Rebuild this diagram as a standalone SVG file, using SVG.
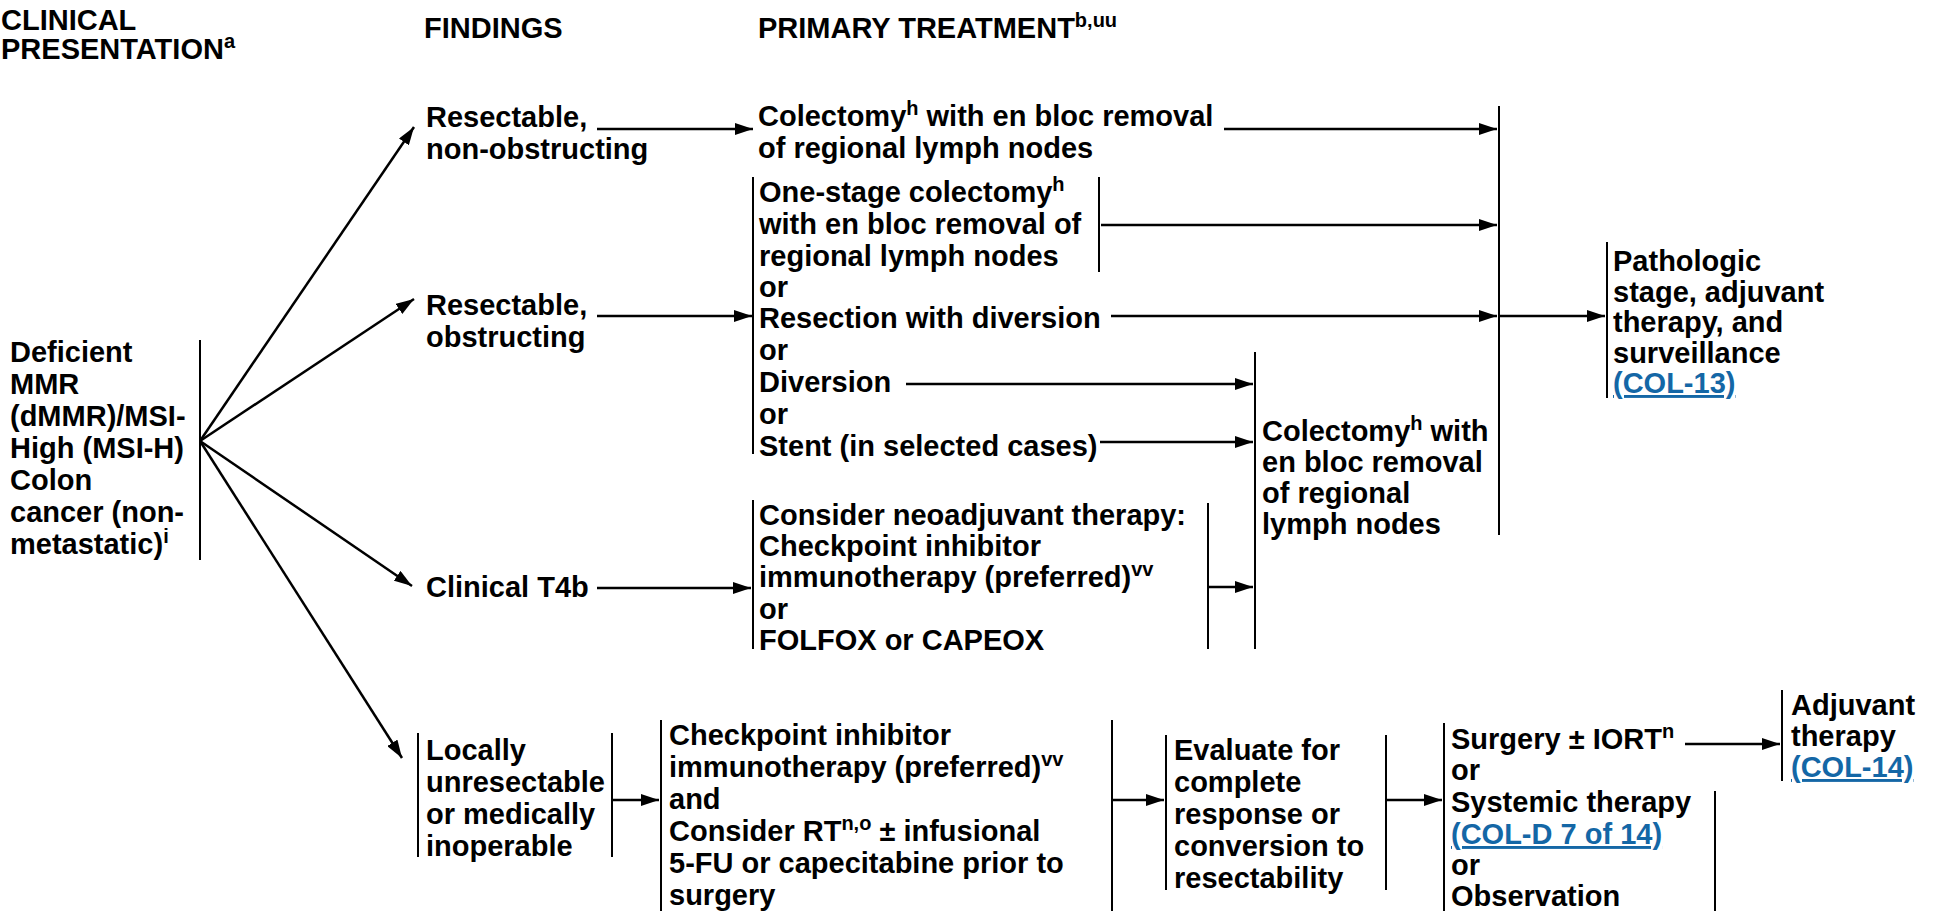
<svg xmlns="http://www.w3.org/2000/svg" width="1938" height="911" viewBox="0 0 1938 911">
<defs>
<style>
text { font-family: "Liberation Sans", Arial, sans-serif; font-weight: bold; font-size: 29px; fill: #000; }
.sup { font-size: 20px; }
.link { fill: #1467a6; text-decoration: underline; }
.ln { stroke: #000; stroke-width: 2; fill: none; }
.arr { stroke: #000; stroke-width: 2.5; fill: none; marker-end: url(#ah); }
</style>
<marker id="ah" viewBox="0 0 18 12" refX="18" refY="6" markerWidth="18" markerHeight="12" markerUnits="userSpaceOnUse" orient="auto">
<path d="M0,0 L18,6 L0,12 z" fill="#000"/>
</marker>
</defs>
<rect width="1938" height="911" fill="#fff"/>

<g id="headers">
<text x="1" y="30">CLINICAL<tspan x="1" dy="29">PRESENTATION</tspan><tspan class="sup" dy="-11">a</tspan></text>
<text x="424" y="38">FINDINGS</text>
<text x="758" y="38">PRIMARY TREATMENT<tspan class="sup" dy="-11">b,uu</tspan></text>
</g>

<g id="node-clinical">
<text x="10" y="362">Deficient<tspan x="10" dy="32">MMR</tspan><tspan x="10" dy="32">(dMMR)/MSI-</tspan><tspan x="10" dy="32">High (MSI-H)</tspan><tspan x="10" dy="32">Colon</tspan><tspan x="10" dy="32">cancer (non-</tspan><tspan x="10" dy="32">metastatic)</tspan><tspan class="sup" dy="-11">i</tspan></text>
<line class="ln" x1="200" y1="340" x2="200" y2="560"/>
</g>

<g id="node-nonobstructing">
<text x="426" y="127">Resectable,<tspan x="426" dy="32">non-obstructing</tspan></text>
</g>
<g id="node-obstructing">
<text x="426" y="315">Resectable,<tspan x="426" dy="32">obstructing</tspan></text>
</g>
<g id="node-t4b">
<text x="426" y="597">Clinical T4b</text>
</g>
<g id="node-unresectable">
<text x="426" y="760">Locally<tspan x="426" dy="32">unresectable</tspan><tspan x="426" dy="32">or medically</tspan><tspan x="426" dy="32">inoperable</tspan></text>
<line class="ln" x1="418" y1="733" x2="418" y2="857"/>
<line class="ln" x1="612" y1="733" x2="612" y2="857"/>
</g>

<g id="node-colectomy1">
<text x="758" y="126">Colectomy<tspan class="sup" dy="-11">h</tspan><tspan dy="11"> with en bloc removal</tspan><tspan x="758" dy="32">of regional lymph nodes</tspan></text>
</g>

<g id="node-obstr-options">
<text x="759" y="202">One-stage colectomy<tspan class="sup" dy="-11">h</tspan><tspan x="759" dy="43">with en bloc removal of</tspan><tspan x="759" dy="32">regional lymph nodes</tspan><tspan x="759" dy="31">or</tspan><tspan x="759" dy="31">Resection with diversion</tspan><tspan x="759" dy="32">or</tspan><tspan x="759" dy="32">Diversion</tspan><tspan x="759" dy="32">or</tspan><tspan x="759" dy="32">Stent (in selected cases)</tspan></text>
<line class="ln" x1="753" y1="177" x2="753" y2="454"/>
<line class="ln" x1="1099" y1="177" x2="1099" y2="272"/>
</g>

<g id="node-colectomy2">
<text x="1262" y="441">Colectomy<tspan class="sup" dy="-11">h</tspan><tspan dy="11"> with</tspan><tspan x="1262" dy="31">en bloc removal</tspan><tspan x="1262" dy="31">of regional</tspan><tspan x="1262" dy="31">lymph nodes</tspan></text>
<line class="ln" x1="1255" y1="352" x2="1255" y2="649"/>
</g>

<g id="node-neoadjuvant">
<text x="759" y="525">Consider neoadjuvant therapy:<tspan x="759" dy="31">Checkpoint inhibitor</tspan><tspan x="759" dy="31">immunotherapy (preferred)</tspan><tspan class="sup" dy="-11">vv</tspan><tspan x="759" dy="43">or</tspan><tspan x="759" dy="31">FOLFOX or CAPEOX</tspan></text>
<line class="ln" x1="753" y1="500" x2="753" y2="649"/>
<line class="ln" x1="1208" y1="503" x2="1208" y2="649"/>
</g>

<g id="node-bigbar">
<line class="ln" x1="1499" y1="106" x2="1499" y2="535"/>
</g>

<g id="node-pathologic">
<text x="1613" y="271">Pathologic<tspan x="1613" dy="30.5">stage, adjuvant</tspan><tspan x="1613" dy="30.5">therapy, and</tspan><tspan x="1613" dy="30.5">surveillance</tspan><tspan x="1613" dy="30.5" class="link">(COL-13)</tspan></text>
<line class="ln" x1="1607" y1="242" x2="1607" y2="398"/>
</g>

<g id="node-checkpoint">
<text x="669" y="745">Checkpoint inhibitor<tspan x="669" dy="32">immunotherapy (preferred)</tspan><tspan class="sup" dy="-11">vv</tspan><tspan x="669" dy="43">and</tspan><tspan x="669" dy="32">Consider RT</tspan><tspan class="sup" dy="-11">n,o</tspan><tspan dy="11"> ± infusional</tspan><tspan x="669" dy="32">5-FU or capecitabine prior to</tspan><tspan x="669" dy="32">surgery</tspan></text>
<line class="ln" x1="661" y1="720" x2="661" y2="911"/>
<line class="ln" x1="1112" y1="720" x2="1112" y2="911"/>
</g>

<g id="node-evaluate">
<text x="1174" y="760">Evaluate for<tspan x="1174" dy="32">complete</tspan><tspan x="1174" dy="32">response or</tspan><tspan x="1174" dy="32">conversion to</tspan><tspan x="1174" dy="32">resectability</tspan></text>
<line class="ln" x1="1166" y1="735" x2="1166" y2="890"/>
<line class="ln" x1="1386" y1="735" x2="1386" y2="890"/>
</g>

<g id="node-surgery">
<text x="1451" y="749">Surgery ± IORT<tspan class="sup" dy="-11">n</tspan><tspan x="1451" dy="42">or</tspan><tspan x="1451" dy="32">Systemic therapy</tspan><tspan x="1451" dy="32" class="link">(COL-D 7 of 14)</tspan><tspan x="1451" dy="31">or</tspan><tspan x="1451" dy="31">Observation</tspan></text>
<line class="ln" x1="1444" y1="723" x2="1444" y2="911"/>
<line class="ln" x1="1715" y1="791" x2="1715" y2="911"/>
</g>

<g id="node-adjuvant">
<text x="1791" y="715">Adjuvant<tspan x="1791" dy="31">therapy</tspan><tspan x="1791" dy="31" class="link">(COL-14)</tspan></text>
<line class="ln" x1="1782" y1="690" x2="1782" y2="781"/>
</g>

<g id="connectors">
<line class="arr" x1="200" y1="441" x2="414" y2="127"/>
<line class="arr" x1="200" y1="441" x2="414" y2="299"/>
<line class="arr" x1="200" y1="441" x2="412" y2="586"/>
<line class="arr" x1="200" y1="441" x2="402" y2="758"/>
<line class="arr" x1="597" y1="129" x2="753" y2="129"/>
<line class="arr" x1="597" y1="316" x2="752" y2="316"/>
<line class="arr" x1="597" y1="588" x2="751" y2="588"/>
<line class="arr" x1="1224" y1="129" x2="1497" y2="129"/>
<line class="arr" x1="1101" y1="225" x2="1497" y2="225"/>
<line class="arr" x1="1111" y1="316" x2="1497" y2="316"/>
<line class="arr" x1="906" y1="384" x2="1253" y2="384"/>
<line class="arr" x1="1100" y1="442" x2="1253" y2="442"/>
<line class="arr" x1="1208" y1="587" x2="1253" y2="587"/>
<line class="arr" x1="1499" y1="316" x2="1605" y2="316"/>
<line class="arr" x1="612" y1="800" x2="659" y2="800"/>
<line class="arr" x1="1112" y1="800" x2="1164" y2="800"/>
<line class="arr" x1="1386" y1="800" x2="1442" y2="800"/>
<line class="arr" x1="1685" y1="744" x2="1780" y2="744"/>
</g>
</svg>
